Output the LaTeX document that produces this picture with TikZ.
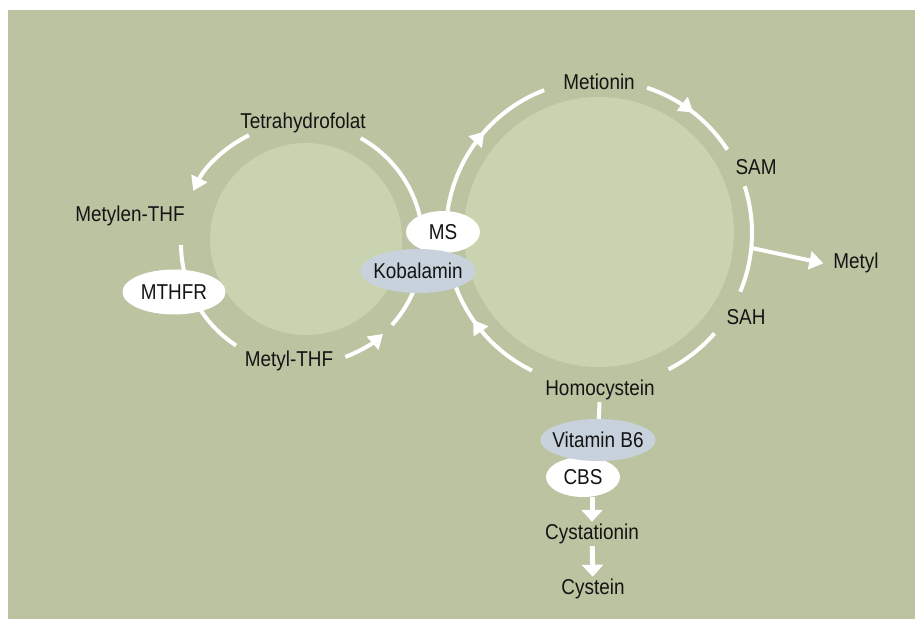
\documentclass[tikz,border=0pt]{standalone}
\usepackage{fontspec}
\setmainfont{Liberation Sans}[FakeStretch=0.88]
\usetikzlibrary{shapes.geometric,arrows.meta,decorations.markings}
\definecolor{bgreen}{HTML}{BBC3A0}
\definecolor{cgreen}{HTML}{C9D3B0}
\definecolor{cobalt}{HTML}{C8D2DC}
\definecolor{ink}{HTML}{141414}

\tikzset{
  lbl/.style={text=ink, inner sep=2pt, font=\fontsize{21.5}{24}\selectfont},
  enzyme/.style={lbl, ellipse, fill=white, inner sep=0pt},
  cofactor/.style={enzyme, fill=cobalt},
  flow/.style={white, line width=4pt},
  tip/.style={-{Triangle[length=14pt,width=17pt]}},
  midtip/.style={postaction={decorate}, decoration={markings,
      mark=at position #1 with {\arrow{Triangle[length=14pt,width=17pt]}}}},
  fat/.style={white, line width=5pt, -{Triangle[length=12pt,width=21pt]}},
}
\newcommand{\inset}[1]{\makebox[0pt]{#1}}

\begin{document}
\begin{tikzpicture}[x=1pt, y=1pt]
\useasboundingbox (0,0) rectangle (915,619);
\fill[white] (0,0) rectangle (915,619);
\fill[bgreen] (8,0) rectangle (915,609);

% folate cycle
\coordinate (lc) at (302,375);
\fill[cgreen] (306,380) circle[radius=96];
\draw[flow, tip] (lc) ++(116:121) arc[start angle=116, end angle=154, radius=121];
\draw[flow] (lc) ++(61:121) arc[start angle=61, end angle=10, radius=121];
\draw[flow] (lc) ++(180.5:121) arc[start angle=180.5, end angle=200, radius=121];
\draw[flow] (lc) ++(205:121) arc[start angle=205, end angle=237, radius=121];
\draw[flow, tip] (lc) ++(291:121) arc[start angle=291, end angle=312, radius=121];
\draw[flow] (lc) ++(318:121) arc[start angle=318, end angle=345, radius=121];

% methionine cycle
\coordinate (rc) at (599,386);
\fill[cgreen] (599,387) circle[radius=135];
\draw[flow, midtip=0.57] (rc) ++(175:153) arc[start angle=175, end angle=111, radius=153];
\draw[flow, midtip=0.51] (rc) ++(71.7:153) arc[start angle=71.7, end angle=33, radius=153];
\draw[flow] (rc) ++(17.8:153) arc[start angle=17.8, end angle=-22.6, radius=153];
\draw[flow] (rc) ++(-41:153) arc[start angle=-41, end angle=-63, radius=153];
\draw[flow, midtip=0.6] (rc) ++(-116:153) arc[start angle=-116, end angle=-165, radius=153];
\path (rc) ++(-5.6:153) coordinate (branch);

\node[lbl] (thf) at (303,496) {Tetrahydrofolat};
\node[lbl] (mthf) at (130,403) {Metylen-THF};
\node[enzyme, minimum width=103pt, minimum height=45pt] (mthfr) at (174,327) {\inset{MTHFR}};
\node[lbl] (methf) at (289,258) {Metyl-THF};
\node[enzyme, minimum width=74pt, minimum height=42pt] (ms) at (443,387) {\inset{MS}};
\node[cofactor, minimum width=115pt, minimum height=44pt] (kob) at (418,348) {\inset{Kobalamin}};

\node[lbl] (met) at (599,537) {Metionin};
\node[lbl] (sam) at (756,452) {SAM};
\node[lbl] (sah) at (746,302) {SAH};
\node[lbl] (metyl) at (856,356) {Metyl};
\node[lbl] (hcy) at (600,229) {Homocystein};
\node[enzyme, minimum width=74pt, minimum height=40pt] (cbs) at (583,142) {\inset{CBS}};
\node[cofactor, minimum width=115pt, minimum height=42pt] (b6) at (598,179) {\inset{Vitamin B6}};
\node[lbl] (cysta) at (592,85) {Cystationin};
\node[lbl] (cys) at (593,30) {Cystein};

\draw[flow, -{Triangle[length=14pt,width=18pt]}, shorten >=8pt] (branch) -- ([yshift=-2pt]metyl.west);
\draw[flow] (hcy) -- (b6);
\draw[fat] (cbs.south -| cysta.north) -- (cysta.north);
\draw[fat] (cysta) -- (cys);
\end{tikzpicture}
\end{document}
